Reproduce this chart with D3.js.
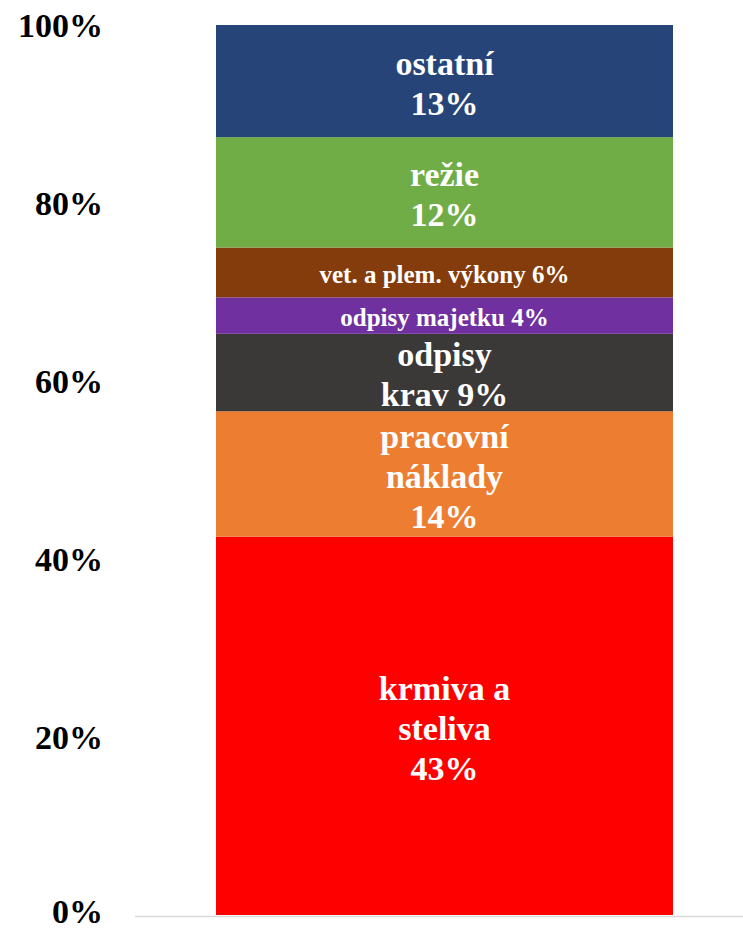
<!DOCTYPE html>
<html>
<head>
<meta charset="utf-8">
<script src="https://cdn.jsdelivr.net/npm/d3@7"></script>
<style>
  body { margin: 0; background: #fff; }
  svg { display: block; font-family: "Liberation Serif", "Times New Roman", serif; }
</style>
</head>
<body>
<svg id="chart" width="743" height="929"></svg>
<script>
// stacked shares, bottom to top
const categories = ['krmiva a steliva', 'pracovní náklady', 'odpisy krav', 'odpisy majetku', 'vet. a plem. výkony', 'režie', 'ostatní'];
const values = [42.5, 14.1, 8.7, 4.1, 5.6, 12.4, 12.6];
const labelLines = [
    ['krmiva a', 'steliva', '43%'],
    ['pracovní', 'náklady', '14%'],
    ['odpisy', 'krav 9%'],
    ['odpisy majetku 4%'],
    ['vet. a plem. výkony 6%'],
    ['režie', '12%'],
    ['ostatní', '13%']
];
const colors = ['#ff0000', '#ed7d31', '#3b3838', '#7030a0', '#843c0c', '#70ad47', '#264478'];
const tickValues = [0, 20, 40, 60, 80, 100];

const svg = d3.select('#chart');

const y = d3.scaleLinear().domain([0, 100]).range([915, 25]);
const barX = 216, barW = 457;

// build stack segments
let acc = 0;
const segments = values.map((v, i) => {
    const d = { name: categories[i], y0: acc, y1: acc + v, color: colors[i], lines: labelLines[i] };
    acc += v;
    return d;
});

// baseline
svg.append('line')
    .attr('x1', 135)
    .attr('x2', 743)
    .attr('y1', y(0) + 1.5)
    .attr('y2', y(0) + 1.5)
    .attr('stroke', '#d9d9d9')
    .attr('stroke-width', 1.5);

svg.selectAll('rect.segment')
    .data(segments)
    .enter()
    .append('rect')
    .attr('class', 'segment')
    .attr('x', barX)
    .attr('width', barW)
    .attr('y', d => y(d.y1))
    .attr('height', d => y(d.y0) - y(d.y1))
    .attr('fill', d => d.color);

// y axis labels
const yAxis = d3.axisLeft(y)
    .tickValues(tickValues)
    .tickFormat(d => d + '%')
    .tickSize(0)
    .tickPadding(0);

const axisG = svg.append('g')
    .attr('transform', 'translate(103,0)')
    .call(yAxis);
axisG.select('.domain').remove();
axisG.selectAll('text')
    .attr('font-family', '"Liberation Serif", "Times New Roman", serif')
    .attr('font-size', '34px')
    .attr('font-weight', 'bold')
    .attr('fill', '#000')
    .attr('dy', d => d === 0 ? '0.22em' : '0.35em');

// segment labels
const cx = barX + barW / 2;
const groups = svg.selectAll('g.label')
    .data(segments)
    .enter()
    .append('g')
    .attr('class', 'label')
    .attr('transform', d => `translate(${cx}, ${(y(d.y0) + y(d.y1)) / 2 + 2})`);

groups.each(function (d) {
    const g = d3.select(this);
    const small = d.lines.length === 1;
    const fs = small ? 25 : 34;
    const lh = small ? 30 : 40;
    const n = d.lines.length;
    d.lines.forEach((t, j) => {
        g.append('text')
            .text(t)
            .attr('x', 0)
            .attr('y', (j - (n - 1) / 2) * lh)
            .attr('text-anchor', 'middle')
            .attr('dy', '0.35em')
            .attr('fill', 'white')
            .attr('font-size', fs + 'px')
            .attr('font-weight', 'bold');
    });
});
</script>
</body>
</html>
